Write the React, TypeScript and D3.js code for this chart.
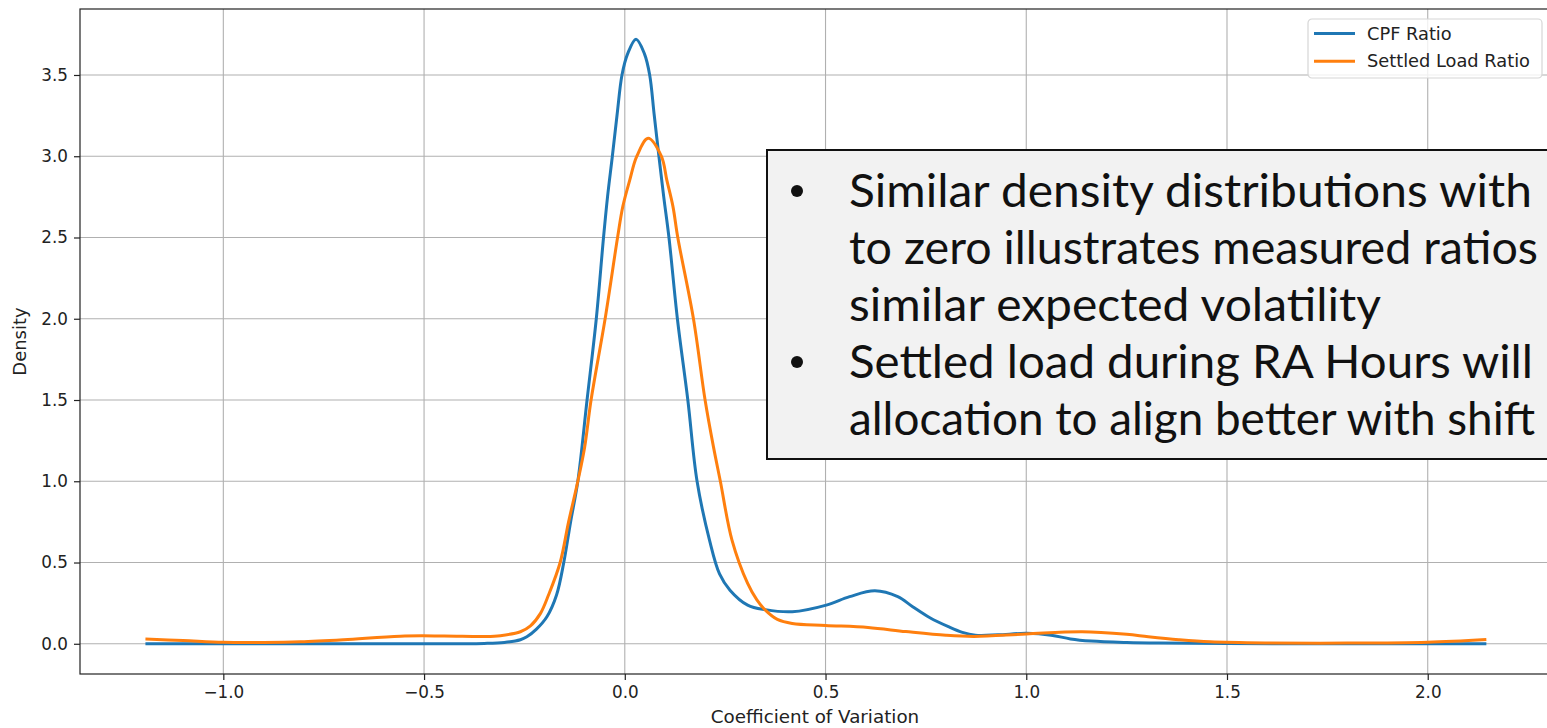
import * as d3 from "d3";
import React, { useRef, useEffect } from "react";

// KDE curves: [coefficient of variation, density]
const cpfRatio: [number, number][] = [
  [-1.194, 0], [-0.6, 0], [-0.35, 0.002], [-0.3, 0.008], [-0.26, 0.025],
  [-0.244, 0.043], [-0.22, 0.09], [-0.194, 0.166], [-0.17, 0.3], [-0.152, 0.5],
  [-0.135, 0.75], [-0.117, 1.0], [-0.094, 1.5], [-0.071, 2.0], [-0.053, 2.5],
  [-0.043, 2.75], [-0.031, 3.0], [-0.019, 3.26], [-0.007, 3.5], [0.007, 3.63],
  [0.028, 3.72], [0.049, 3.63], [0.062, 3.5], [0.073, 3.26], [0.085, 3.0],
  [0.097, 2.75], [0.11, 2.5], [0.131, 2.0], [0.157, 1.5], [0.18, 1.0],
  [0.211, 0.638], [0.236, 0.43], [0.262, 0.33], [0.306, 0.238], [0.35, 0.21],
  [0.417, 0.197], [0.502, 0.238], [0.56, 0.29], [0.623, 0.326], [0.68, 0.29],
  [0.717, 0.228], [0.76, 0.16], [0.806, 0.105], [0.841, 0.07], [0.873, 0.053],
  [0.93, 0.055], [1.0, 0.064], [1.062, 0.053], [1.11, 0.03], [1.162, 0.017],
  [1.25, 0.008], [1.33, 0.004], [1.5, 0.001], [2.146, 0],
];

const settledLoadRatio: [number, number][] = [
  [-1.194, 0.029], [-1.1, 0.02], [-1.0, 0.009], [-0.9, 0.008], [-0.808, 0.012],
  [-0.7, 0.025], [-0.559, 0.047], [-0.45, 0.048], [-0.35, 0.045], [-0.31, 0.05],
  [-0.26, 0.074], [-0.235, 0.11], [-0.21, 0.187], [-0.19, 0.3], [-0.161, 0.5],
  [-0.14, 0.75], [-0.117, 1.0], [-0.1, 1.21], [-0.084, 1.5], [-0.049, 2.0],
  [-0.018, 2.5], [-0.005, 2.69], [0.012, 2.85], [0.03, 3.0], [0.058, 3.11],
  [0.091, 3.0], [0.105, 2.85], [0.12, 2.69], [0.132, 2.5], [0.171, 2.0],
  [0.2, 1.5], [0.221, 1.21], [0.238, 1.0], [0.267, 0.638], [0.306, 0.371],
  [0.329, 0.27], [0.35, 0.207], [0.38, 0.15], [0.417, 0.125], [0.5, 0.113],
  [0.606, 0.1], [0.7, 0.075], [0.8, 0.052], [0.87, 0.045], [1.0, 0.06],
  [1.139, 0.074], [1.25, 0.058], [1.304, 0.043], [1.38, 0.025], [1.458, 0.012],
  [1.6, 0.005], [1.8, 0.004], [2.0, 0.01], [2.146, 0.027],
];

const seriesNames = ["CPF Ratio", "Settled Load Ratio"];
const seriesColors = ["#1f77b4", "#ff7f0e"];
const xTicks = [-1.0, -0.5, 0.0, 0.5, 1.0, 1.5, 2.0];
const yTicks = [0.0, 0.5, 1.0, 1.5, 2.0, 2.5, 3.0, 3.5];

// annotation text as visible in the reference (box runs past the right edge)
const noteLines = [
  { bullet: true, text: "Similar density distributions with", right: 1532 },
  { bullet: false, text: "to zero illustrates measured ratios", right: 1538 },
  { bullet: false, text: "similar expected volatility", right: 1381 },
  { bullet: true, text: "Settled load during RA Hours will", right: 1533 },
  { bullet: false, text: "allocation to align better with shift", right: 1535 },
];

const width = 1547;
const height = 728;
const margin = { top: 9, left: 80, bottom: 54, right: -8 };

function DensityChart() {
  const ref = useRef<SVGSVGElement>(null);

  useEffect(() => {
    const svg = d3.select(ref.current);
    svg.selectAll("*").remove();

    const x = d3.scaleLinear().domain([-1.357, 2.317]).range([margin.left, width - margin.right]);
    const y = d3.scaleLinear().domain([-0.186, 3.906]).range([height - margin.bottom, margin.top]);
    const font = "'DejaVu Sans', sans-serif";

    // grid
    const grid = svg.append("g");
    grid.selectAll(".gx").data(xTicks).join("line")
      .attr("x1", (d) => x(d)).attr("x2", (d) => x(d))
      .attr("y1", y.range()[0]).attr("y2", y.range()[1])
      .attr("stroke", "#b0b0b0").attr("stroke-width", 1.1);
    grid.selectAll(".gy").data(yTicks).join("line")
      .attr("x1", x.range()[0]).attr("x2", x.range()[1])
      .attr("y1", (d) => y(d)).attr("y2", (d) => y(d))
      .attr("stroke", "#b0b0b0").attr("stroke-width", 1.1);

    // curves
    const line = d3.line<[number, number]>()
      .x((d) => x(d[0])).y((d) => y(d[1]))
      .curve(d3.curveCatmullRom.alpha(0.5));
    [cpfRatio, settledLoadRatio].forEach((data, i) => {
      svg.append("path")
        .datum(data)
        .attr("d", line)
        .attr("fill", "none")
        .attr("stroke", seriesColors[i])
        .attr("stroke-width", 3)
        .attr("stroke-linejoin", "round");
    });

    // spines
    svg.append("rect")
      .attr("x", x.range()[0]).attr("y", y.range()[1])
      .attr("width", x.range()[1] - x.range()[0])
      .attr("height", y.range()[0] - y.range()[1])
      .attr("fill", "none").attr("stroke", "#222").attr("stroke-width", 1.2);

    // x axis
    const xAxis = d3.axisBottom(x).tickValues(xTicks).tickSize(6).tickPadding(6)
      .tickFormat((d) => d3.format(".1f")(d as number).replace("-", "\u2212"));
    const gx = svg.append("g")
      .attr("transform", `translate(0,${y.range()[0]})`)
      .call(xAxis);
    gx.select(".domain").remove();
    gx.selectAll("line").attr("stroke", "#222").attr("stroke-width", 1.2);
    gx.selectAll("text").attr("font-family", font).attr("font-size", 16.8).attr("fill", "#222");

    // y axis
    const yAxis = d3.axisLeft(y).tickValues(yTicks).tickSize(6).tickPadding(6)
      .tickFormat((d) => d3.format(".1f")(d as number));
    const gy = svg.append("g")
      .attr("transform", `translate(${x.range()[0]},0)`)
      .call(yAxis);
    gy.select(".domain").remove();
    gy.selectAll("line").attr("stroke", "#222").attr("stroke-width", 1.2);
    gy.selectAll("text").attr("font-family", font).attr("font-size", 16.8).attr("fill", "#222");

    // axis labels
    svg.append("text")
      .attr("x", 815).attr("y", 723)
      .attr("text-anchor", "middle")
      .attr("font-family", font).attr("font-size", 18.3).attr("fill", "#222")
      .text("Coefficient of Variation");
    svg.append("text")
      .attr("transform", `translate(26,${(y.range()[0] + y.range()[1]) / 2}) rotate(-90)`)
      .attr("text-anchor", "middle")
      .attr("font-family", font).attr("font-size", 18).attr("fill", "#222")
      .text("Density");

    // legend
    const legend = svg.append("g").attr("transform", "translate(1308,19)");
    legend.append("rect")
      .attr("width", 234).attr("height", 59).attr("rx", 4)
      .attr("fill", "white").attr("fill-opacity", 0.8)
      .attr("stroke", "#d6d6d6").attr("stroke-width", 1.2);
    seriesNames.forEach((name, i) => {
      legend.append("line")
        .attr("x1", 6).attr("x2", 47)
        .attr("y1", 14.5 + i * 27.7).attr("y2", 14.5 + i * 27.7)
        .attr("stroke", seriesColors[i]).attr("stroke-width", 3);
      legend.append("text")
        .attr("x", 59).attr("y", 20.5 + i * 27.7)
        .attr("font-family", font).attr("font-size", 17.8).attr("fill", "#222")
        .text(name);
    });

    // annotation box
    const note = svg.append("g");
    note.append("rect")
      .attr("x", 767).attr("y", 150).attr("width", 820).attr("height", 309)
      .attr("fill", "#f2f2f2").attr("stroke", "#111").attr("stroke-width", 2);
    noteLines.forEach((l, i) => {
      const by = 207 + i * 57;
      if (l.bullet) {
        note.append("circle")
          .attr("cx", 797).attr("cy", by - 16).attr("r", 6)
          .attr("fill", "#111");
      }
      note.append("text")
        .attr("x", 849).attr("y", by)
        .attr("textLength", l.right - 849)
        .attr("lengthAdjust", "spacingAndGlyphs")
        .attr("font-family", "Lato, sans-serif").attr("font-size", 46).attr("fill", "#111")
        .text(l.text);
    });
  }, []);

  return <svg ref={ref} width={width} height={height} style={{ display: "block" }} />;
}

export default function App() {
  return (
    <div style={{ position: "absolute", left: 0, top: 0, width, height, overflow: "hidden", background: "white" }}>
      <DensityChart />
    </div>
  );
}
